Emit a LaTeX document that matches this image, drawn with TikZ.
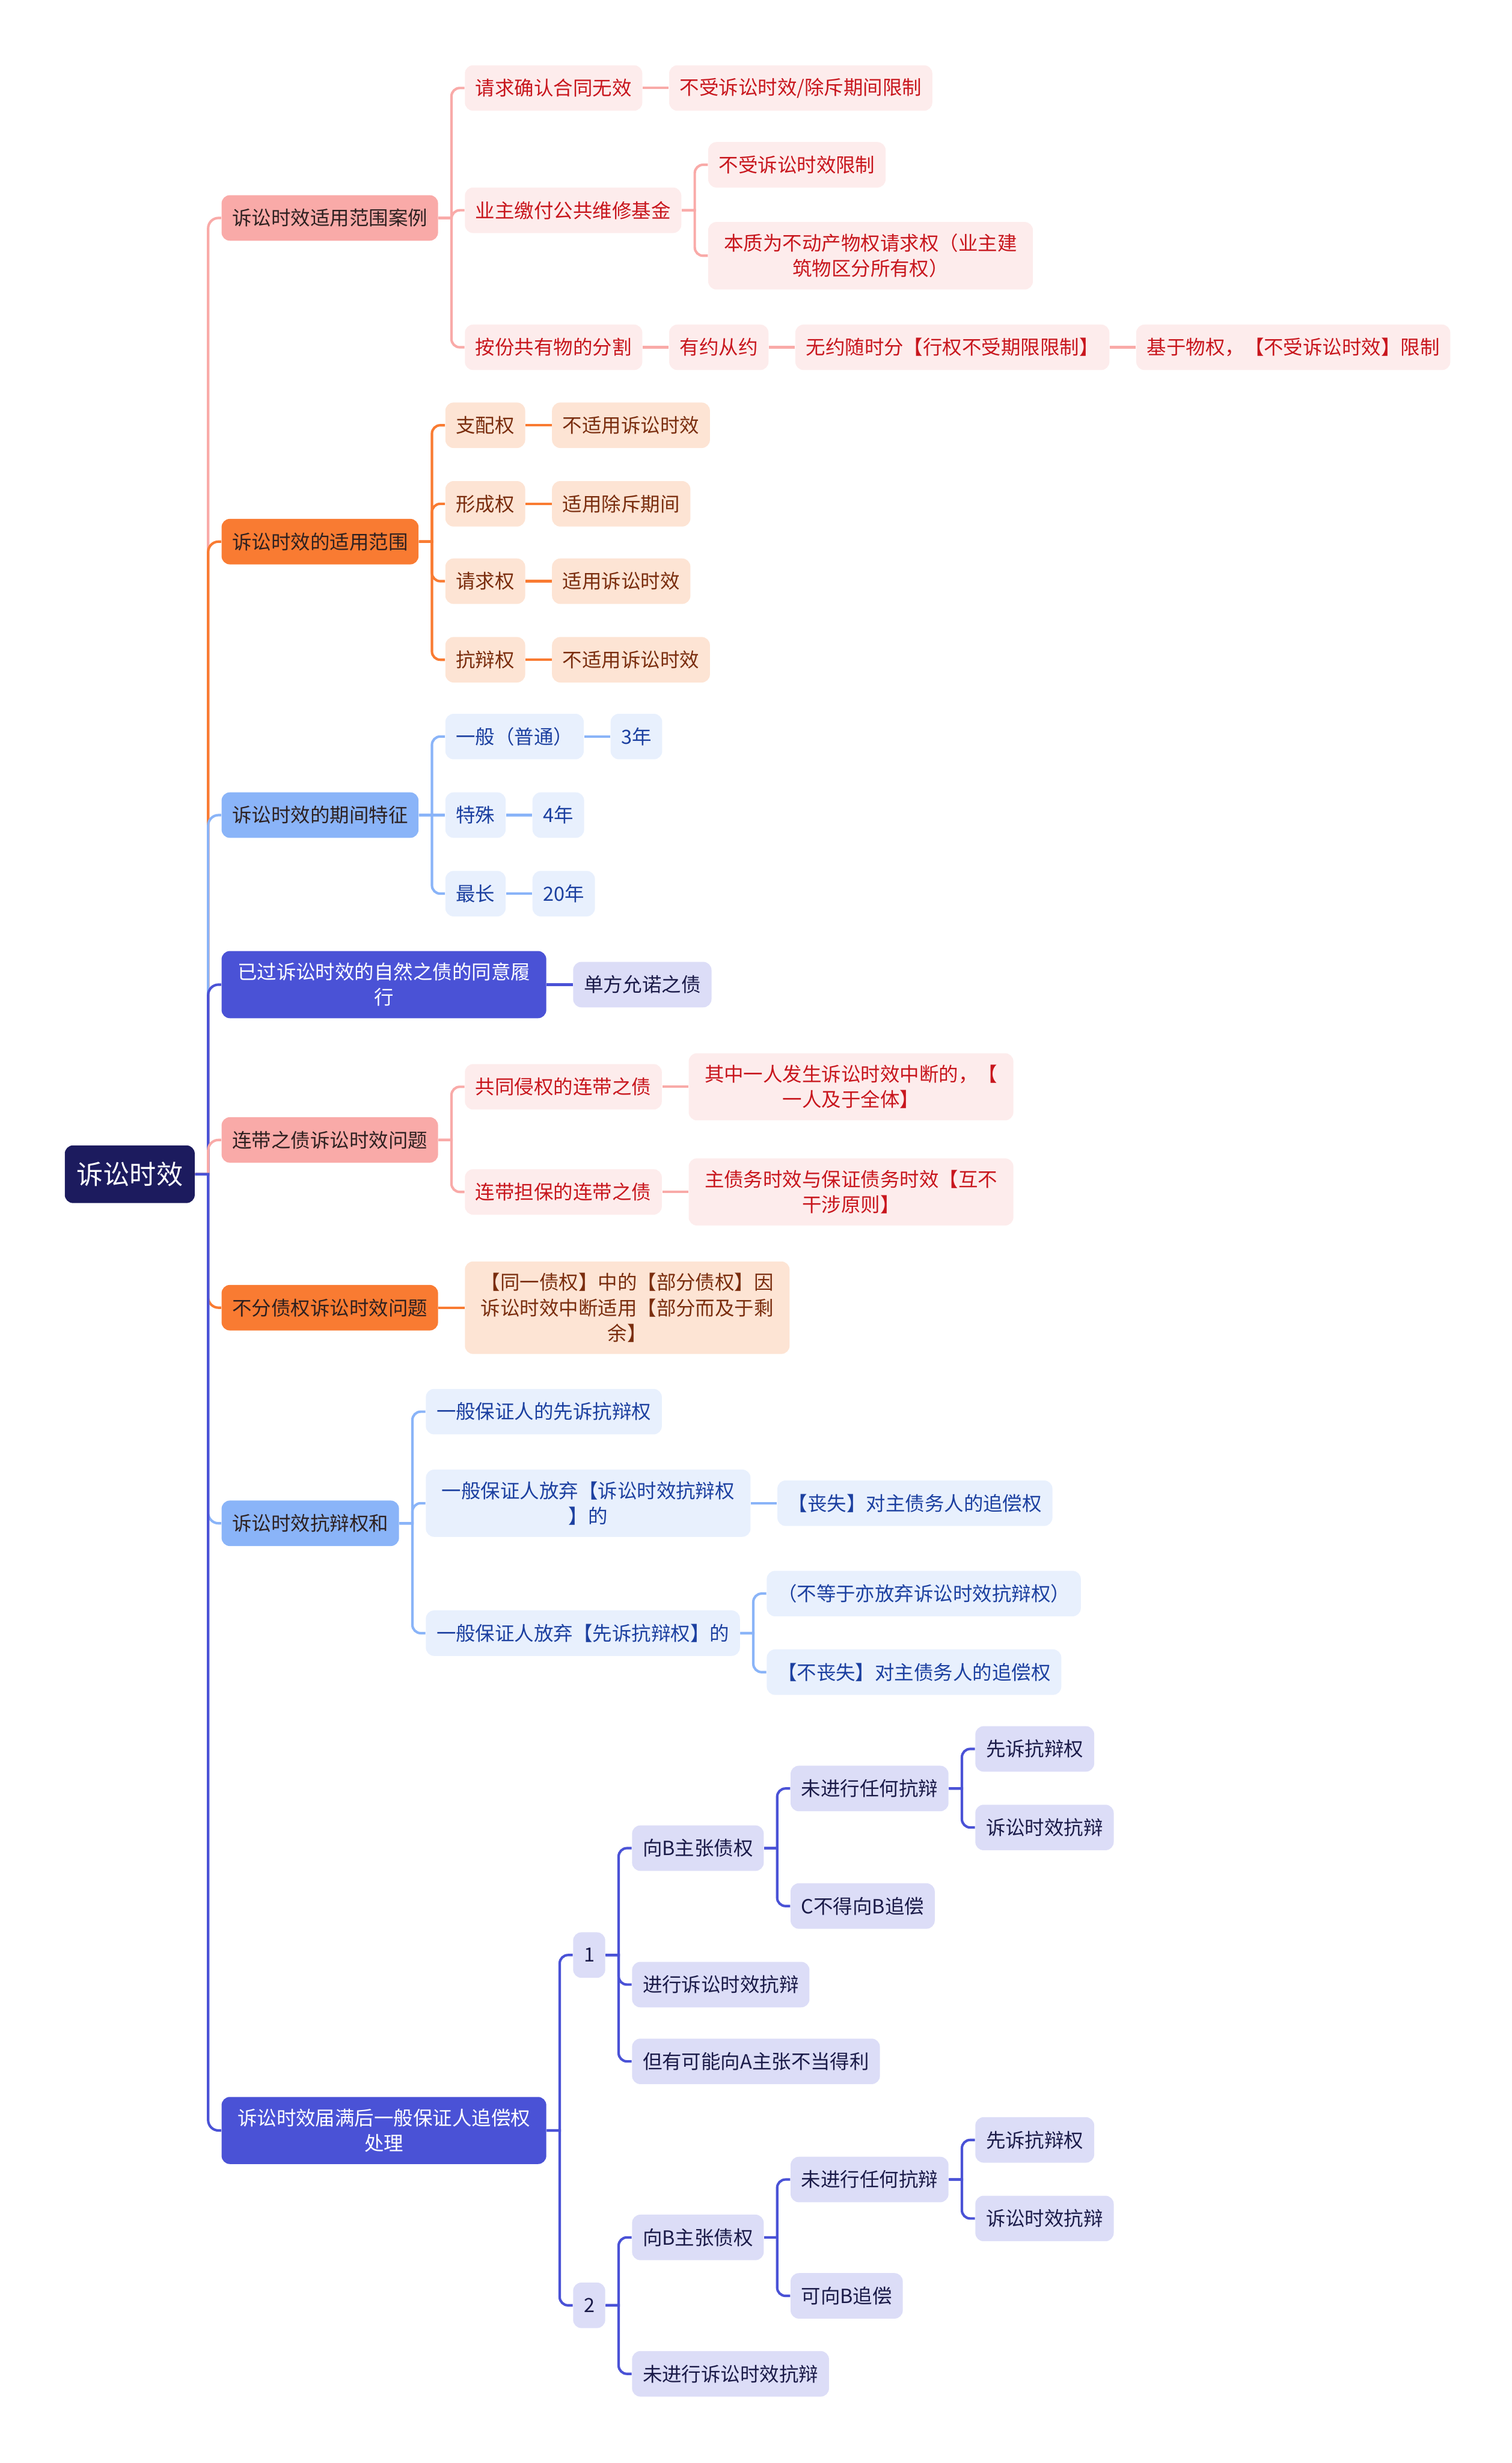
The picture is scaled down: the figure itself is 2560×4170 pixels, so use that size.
\documentclass[tikz,border=0pt]{standalone}
\usepackage{fontspec}
\setmainfont{Noto Sans CJK SC}
\usepackage{tikz}
\usetikzlibrary{positioning}
\definecolor{RaizAzul}{RGB}{28,27,94}
\definecolor{RosaFuerte}{RGB}{249,170,168}
\definecolor{RosaSuave}{RGB}{253,236,236}
\definecolor{RosaTinta}{RGB}{200,22,29}
\definecolor{NaranjaFuerte}{RGB}{249,123,50}
\definecolor{NaranjaSuave}{RGB}{253,228,212}
\definecolor{NaranjaTinta}{RGB}{122,45,14}
\definecolor{AzulFuerte}{RGB}{138,180,248}
\definecolor{AzulSuave}{RGB}{232,240,253}
\definecolor{AzulTinta}{RGB}{28,64,160}
\definecolor{IndigoFuerte}{RGB}{74,82,214}
\definecolor{IndigoSuave}{RGB}{220,221,247}
\definecolor{IndigoTinta}{RGB}{26,26,72}
\definecolor{TintaOscura}{RGB}{45,32,32}

\begin{document}
\begin{tikzpicture}[x=0.01cm, y=-0.01cm, font=\fontsize{9.4pt}{12.2pt}\selectfont,
  nodo/.style={rectangle, rounded corners=4pt, anchor=west, align=center, inner xsep=0.18cm, inner ysep=0.2cm, minimum height=0.77cm},
  ancho/.style={inner xsep=0.27cm},
  raiz/.style={nodo, fill=RaizAzul, text=white, font=\fontsize{12.8pt}{15pt}\selectfont, inner xsep=0.2cm, inner ysep=0.28cm},
  rosa/.style={nodo, fill=RosaFuerte, text=TintaOscura},
  rosaclaro/.style={nodo, fill=RosaSuave, text=RosaTinta},
  naranja/.style={nodo, fill=NaranjaFuerte, text=TintaOscura},
  naranjaclaro/.style={nodo, fill=NaranjaSuave, text=NaranjaTinta},
  azul/.style={nodo, fill=AzulFuerte, text=TintaOscura},
  azulclaro/.style={nodo, fill=AzulSuave, text=AzulTinta},
  indigo/.style={nodo, fill=IndigoFuerte, text=white},
  indigoclaro/.style={nodo, fill=IndigoSuave, text=IndigoTinta},
  lrosa/.style={draw=RosaFuerte, line width=1.2pt},
  lnaranja/.style={draw=NaranjaFuerte, line width=1.2pt},
  lazul/.style={draw=AzulFuerte, line width=1.2pt},
  lindigo/.style={draw=IndigoFuerte, line width=1.2pt}]
  \useasboundingbox (0,0) rectangle (2560,4170);

  \node[raiz] (root) at (109,1988) {诉讼时效};

  \node[rosa, xshift=4.4mm] (a) at (root.east |- 0,369) {诉讼时效适用范围案例};
  \node[rosaclaro, xshift=4.4mm] (a1) at (a.east |- 0,149) {请求确认合同无效};
  \node[rosaclaro, right=4.4mm of a1] (a11) {不受诉讼时效/除斥期间限制};
  \node[rosaclaro, xshift=4.4mm] (a2) at (a.east |- 0,356) {业主缴付公共维修基金};
  \node[rosaclaro, xshift=4.4mm] (a21) at (a2.east |- 0,279) {不受诉讼时效限制};
  \node[rosaclaro, ancho, xshift=4.4mm] (a22) at (a2.east |- 0,433) {本质为不动产物权请求权（业主建\\筑物区分所有权）};
  \node[rosaclaro, xshift=4.4mm] (a3) at (a.east |- 0,588) {按份共有物的分割};
  \node[rosaclaro, right=4.4mm of a3] (a31) {有约从约};
  \node[rosaclaro, right=4.4mm of a31] (a32) {无约随时分【行权不受期限限制】};
  \node[rosaclaro, right=4.4mm of a32] (a33) {基于物权，【不受诉讼时效】限制};

  \node[naranja, xshift=4.4mm] (b) at (root.east |- 0,917) {诉讼时效的适用范围};
  \node[naranjaclaro, xshift=4.4mm] (b1) at (b.east |- 0,720) {支配权};
  \node[naranjaclaro, right=4.4mm of b1] (b11) {不适用诉讼时效};
  \node[naranjaclaro, xshift=4.4mm] (b2) at (b.east |- 0,853) {形成权};
  \node[naranjaclaro, right=4.4mm of b2] (b21) {适用除斥期间};
  \node[naranjaclaro, xshift=4.4mm] (b3) at (b.east |- 0,984) {请求权};
  \node[naranjaclaro, right=4.4mm of b3] (b31) {适用诉讼时效};
  \node[naranjaclaro, xshift=4.4mm] (b4) at (b.east |- 0,1117) {抗辩权};
  \node[naranjaclaro, right=4.4mm of b4] (b41) {不适用诉讼时效};

  \node[azul, xshift=4.4mm] (c) at (root.east |- 0,1380) {诉讼时效的期间特征};
  \node[azulclaro, xshift=4.4mm] (c1) at (c.east |- 0,1247) {一般（普通）};
  \node[azulclaro, right=4.4mm of c1] (c11) {3年};
  \node[azulclaro, right=4.4mm of c] (c2) {特殊};
  \node[azulclaro, right=4.4mm of c2] (c21) {4年};
  \node[azulclaro, xshift=4.4mm] (c3) at (c.east |- 0,1513) {最长};
  \node[azulclaro, right=4.4mm of c3] (c31) {20年};

  \node[indigo, ancho, xshift=4.4mm] (d) at (root.east |- 0,1667) {已过诉讼时效的自然之债的同意履\\行};
  \node[indigoclaro, right=4.4mm of d] (d1) {单方允诺之债};

  \node[rosa, xshift=4.4mm] (e) at (root.east |- 0,1930) {连带之债诉讼时效问题};
  \node[rosaclaro, xshift=4.4mm] (e1) at (e.east |- 0,1840) {共同侵权的连带之债};
  \node[rosaclaro, ancho, right=4.4mm of e1] (e11) {其中一人发生诉讼时效中断的，【\\一人及于全体】};
  \node[rosaclaro, xshift=4.4mm] (e2) at (e.east |- 0,2018) {连带担保的连带之债};
  \node[rosaclaro, ancho, right=4.4mm of e2] (e21) {主债务时效与保证债务时效【互不\\干涉原则】};

  \node[naranja, xshift=4.4mm] (f) at (root.east |- 0,2214) {不分债权诉讼时效问题};
  \node[naranjaclaro, ancho, right=4.4mm of f] (f1) {【同一债权】中的【部分债权】因\\诉讼时效中断适用【部分而及于剩\\余】};

  \node[azul, xshift=4.4mm] (g) at (root.east |- 0,2579) {诉讼时效抗辩权和};
  \node[azulclaro, xshift=4.4mm] (g1) at (g.east |- 0,2390) {一般保证人的先诉抗辩权};
  \node[azulclaro, ancho, xshift=4.4mm] (g2) at (g.east |- 0,2545) {一般保证人放弃【诉讼时效抗辩权\\】的};
  \node[azulclaro, right=4.4mm of g2] (g21) {【丧失】对主债务人的追偿权};
  \node[azulclaro, xshift=4.4mm] (g3) at (g.east |- 0,2765) {一般保证人放弃【先诉抗辩权】的};
  \node[azulclaro, xshift=4.4mm] (g31) at (g3.east |- 0,2698) {（不等于亦放弃诉讼时效抗辩权）};
  \node[azulclaro, xshift=4.4mm] (g32) at (g3.east |- 0,2831) {【不丧失】对主债务人的追偿权};

  \node[indigo, ancho, xshift=4.4mm] (h) at (root.east |- 0,3607) {诉讼时效届满后一般保证人追偿权\\处理};
  \node[indigoclaro, xshift=4.4mm] (h1) at (h.east |- 0,3310) {1};
  \node[indigoclaro, xshift=4.4mm] (h11) at (h1.east |- 0,3129) {向B主张债权};
  \node[indigoclaro, xshift=4.4mm] (h111) at (h11.east |- 0,3028) {未进行任何抗辩};
  \node[indigoclaro, xshift=4.4mm] (h1111) at (h111.east |- 0,2961) {先诉抗辩权};
  \node[indigoclaro, xshift=4.4mm] (h1112) at (h111.east |- 0,3094) {诉讼时效抗辩};
  \node[indigoclaro, xshift=4.4mm] (h112) at (h11.east |- 0,3227) {C不得向B追偿};
  \node[indigoclaro, xshift=4.4mm] (h12) at (h1.east |- 0,3360) {进行诉讼时效抗辩};
  \node[indigoclaro, xshift=4.4mm] (h13) at (h1.east |- 0,3490) {但有可能向A主张不当得利};
  \node[indigoclaro, xshift=4.4mm] (h2) at (h.east |- 0,3903) {2};
  \node[indigoclaro, xshift=4.4mm] (h21) at (h2.east |- 0,3788) {向B主张债权};
  \node[indigoclaro, xshift=4.4mm] (h211) at (h21.east |- 0,3690) {未进行任何抗辩};
  \node[indigoclaro, xshift=4.4mm] (h2111) at (h211.east |- 0,3623) {先诉抗辩权};
  \node[indigoclaro, xshift=4.4mm] (h2112) at (h211.east |- 0,3756) {诉讼时效抗辩};
  \node[indigoclaro, xshift=4.4mm] (h212) at (h21.east |- 0,3887) {可向B追偿};
  \node[indigoclaro, xshift=4.4mm] (h22) at (h2.east |- 0,4019) {未进行诉讼时效抗辩};

  % tronco
  \draw[lrosa] (root.east) -- ++(22,0) [rounded corners=5pt] |- (a.west);
  \draw[lnaranja] (root.east) -- ++(22,0) [rounded corners=5pt] |- (b.west);
  \draw[lazul] (root.east) -- ++(22,0) [rounded corners=5pt] |- (c.west);
  \draw[lindigo] (root.east) -- ++(22,0) [rounded corners=5pt] |- (d.west);
  \draw[lrosa] (root.east) -- ++(22,0) [rounded corners=5pt] |- (e.west);
  \draw[lnaranja] (root.east) -- ++(22,0) [rounded corners=5pt] |- (f.west);
  \draw[lazul] (root.east) -- ++(22,0) [rounded corners=5pt] |- (g.west);
  \draw[lindigo] (root.east) -- ++(22,0) [rounded corners=5pt] |- (h.west);

  % ramas
  \foreach \n in {a1,a2,a3} \draw[lrosa] (a.east) -- ++(22,0) [rounded corners=4pt] |- (\n.west);
  \foreach \n in {a21,a22} \draw[lrosa] (a2.east) -- ++(22,0) [rounded corners=4pt] |- (\n.west);
  \draw[lrosa] (a1) -- (a11) (a3) -- (a31) (a31) -- (a32) (a32) -- (a33);
  \foreach \n in {b1,b2,b3,b4} \draw[lnaranja] (b.east) -- ++(22,0) [rounded corners=4pt] |- (\n.west);
  \draw[lnaranja] (b1) -- (b11) (b2) -- (b21) (b3) -- (b31) (b4) -- (b41);
  \foreach \n in {c1,c3} \draw[lazul] (c.east) -- ++(22,0) [rounded corners=4pt] |- (\n.west);
  \draw[lazul] (c) -- (c2) (c1) -- (c11) (c2) -- (c21) (c3) -- (c31);
  \draw[lindigo] (d) -- (d1);
  \foreach \n in {e1,e2} \draw[lrosa] (e.east) -- ++(22,0) [rounded corners=4pt] |- (\n.west);
  \draw[lrosa] (e1) -- (e11) (e2) -- (e21);
  \draw[lnaranja] (f) -- (f1);
  \foreach \n in {g1,g2,g3} \draw[lazul] (g.east) -- ++(22,0) [rounded corners=4pt] |- (\n.west);
  \foreach \n in {g31,g32} \draw[lazul] (g3.east) -- ++(22,0) [rounded corners=4pt] |- (\n.west);
  \draw[lazul] (g2) -- (g21);
  \foreach \n in {h1,h2} \draw[lindigo] (h.east) -- ++(22,0) [rounded corners=4pt] |- (\n.west);
  \foreach \n in {h11,h12,h13} \draw[lindigo] (h1.east) -- ++(22,0) [rounded corners=4pt] |- (\n.west);
  \foreach \n in {h111,h112} \draw[lindigo] (h11.east) -- ++(22,0) [rounded corners=4pt] |- (\n.west);
  \foreach \n in {h1111,h1112} \draw[lindigo] (h111.east) -- ++(22,0) [rounded corners=4pt] |- (\n.west);
  \foreach \n in {h21,h22} \draw[lindigo] (h2.east) -- ++(22,0) [rounded corners=4pt] |- (\n.west);
  \foreach \n in {h211,h212} \draw[lindigo] (h21.east) -- ++(22,0) [rounded corners=4pt] |- (\n.west);
  \foreach \n in {h2111,h2112} \draw[lindigo] (h211.east) -- ++(22,0) [rounded corners=4pt] |- (\n.west);
\end{tikzpicture}
\end{document}
